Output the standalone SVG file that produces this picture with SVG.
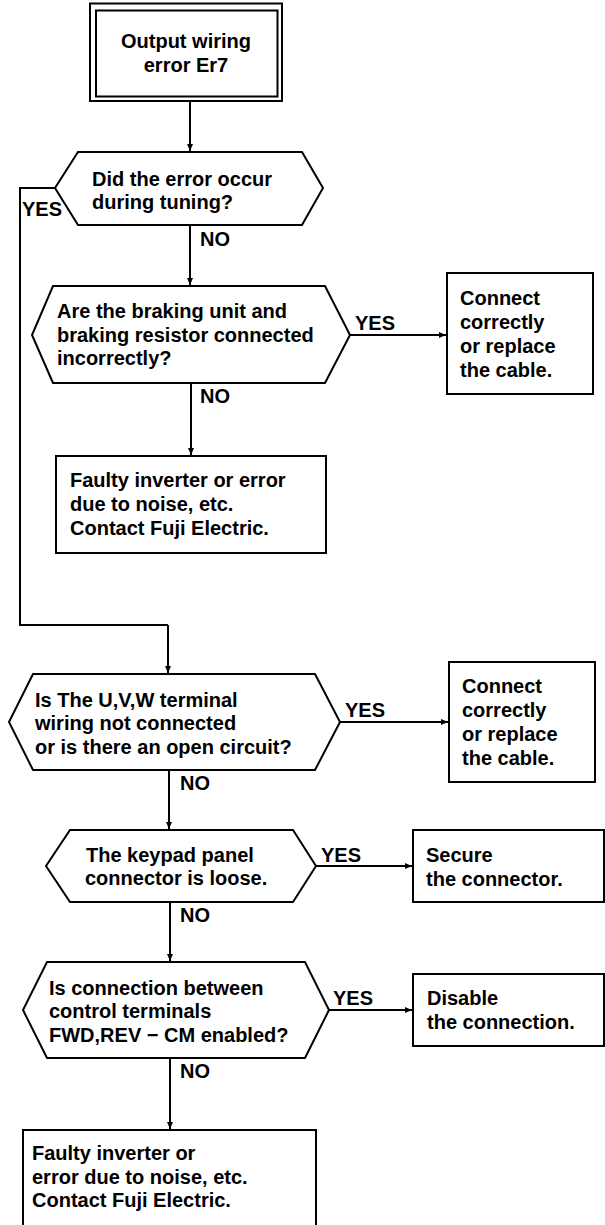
<svg xmlns="http://www.w3.org/2000/svg" width="605" height="1225" viewBox="0 0 605 1225">
  <defs>
    <marker id="arrow" markerUnits="userSpaceOnUse" markerWidth="8" markerHeight="8" refX="7" refY="4" orient="auto">
      <path d="M0,1 L7,4 L0,7 Z" fill="#000"/>
    </marker>
    <style>
      .shape { fill: #fff; stroke: #000; stroke-width: 2; }
      .line { fill: none; stroke: #000; stroke-width: 2; }
      .arrow { fill: none; stroke: #000; stroke-width: 2; marker-end: url(#arrow); }
      text { font-family: "Liberation Sans", Arial, sans-serif; font-size: 20px; font-weight: bold; fill: #000; }
      .mid { text-anchor: middle; }
    </style>
  </defs>
  <rect width="605" height="1225" fill="#fff"/>

  <!-- connectors -->
  <g id="connectors">
    <line class="arrow" x1="190" y1="101" x2="190" y2="151"/>
    <polyline class="line" points="55,188 20,188 20,625 168,625"/>
    <line class="arrow" x1="168" y1="625" x2="168" y2="673"/>
    <line class="arrow" x1="190" y1="225" x2="190" y2="285"/>
    <line class="arrow" x1="350" y1="335" x2="446" y2="335"/>
    <line class="arrow" x1="191" y1="383" x2="191" y2="455"/>
    <line class="arrow" x1="340" y1="722" x2="448" y2="722"/>
    <line class="arrow" x1="169" y1="770" x2="169" y2="829"/>
    <line class="arrow" x1="316" y1="866" x2="412" y2="866"/>
    <line class="arrow" x1="170" y1="902" x2="170" y2="961"/>
    <line class="arrow" x1="329" y1="1010" x2="412" y2="1010"/>
    <line class="arrow" x1="170" y1="1058" x2="170" y2="1129"/>
    <text x="22" y="216">YES</text>
    <text x="200" y="246">NO</text>
    <text x="355" y="330">YES</text>
    <text x="200" y="403">NO</text>
    <text x="345" y="717">YES</text>
    <text x="180" y="790">NO</text>
    <text x="321" y="862">YES</text>
    <text x="180" y="922">NO</text>
    <text x="333" y="1005">YES</text>
    <text x="180" y="1078">NO</text>
  </g>

  <!-- start -->
  <g id="start">
    <rect class="shape" x="90" y="3.5" width="192" height="97.5"/>
    <rect class="shape" x="96" y="10.5" width="181.5" height="86"/>
    <text class="mid" x="186" y="48">Output wiring</text>
    <text class="mid" x="186" y="72">error Er7</text>
  </g>

  <!-- decision: tuning -->
  <g id="q-tuning">
    <polygon class="shape" points="78,152 302,152 323,188 302,225 78,225 55,188"/>
    <text x="92" y="186">Did the error occur</text>
    <text x="92" y="209">during tuning?</text>
  </g>

  <!-- decision: braking unit -->
  <g id="q-braking">
    <polygon class="shape" points="53,286 325,286 350,335 325,383 53,383 32,335"/>
    <text x="57" y="318">Are the braking unit and</text>
    <text x="57" y="342">braking resistor connected</text>
    <text x="57" y="365">incorrectly?</text>
  </g>

  <g id="fix-braking">
    <rect class="shape" x="447" y="273" width="146" height="121"/>
    <text x="460" y="305">Connect</text>
    <text x="460" y="329">correctly</text>
    <text x="460" y="353">or replace</text>
    <text x="460" y="377">the cable.</text>
  </g>

  <g id="fault-1">
    <rect class="shape" x="56" y="456" width="270" height="97"/>
    <text x="70" y="487">Faulty inverter or error</text>
    <text x="70" y="511">due to noise, etc.</text>
    <text x="70" y="535">Contact Fuji Electric.</text>
  </g>

  <!-- decision: U,V,W wiring -->
  <g id="q-uvw">
    <polygon class="shape" points="33,674 315,674 340,722 315,770 33,770 9,722"/>
    <text x="35" y="707">Is The U,V,W terminal</text>
    <text x="35" y="730">wiring not connected</text>
    <text x="35" y="754">or is there an open circuit?</text>
  </g>

  <g id="fix-uvw">
    <rect class="shape" x="449" y="662" width="146" height="120"/>
    <text x="462" y="693">Connect</text>
    <text x="462" y="717">correctly</text>
    <text x="462" y="741">or replace</text>
    <text x="462" y="765">the cable.</text>
  </g>

  <!-- decision: keypad connector -->
  <g id="q-keypad">
    <polygon class="shape" points="70,830 293,830 316,866 293,902 70,902 46,866"/>
    <text x="86" y="862">The keypad panel</text>
    <text x="85" y="885">connector is loose.</text>
  </g>

  <g id="fix-keypad">
    <rect class="shape" x="413" y="830" width="191" height="72"/>
    <text x="426" y="862">Secure</text>
    <text x="426" y="886">the connector.</text>
  </g>

  <!-- decision: FWD/REV - CM -->
  <g id="q-fwdrev">
    <polygon class="shape" points="47,962 305,962 329,1010 305,1058 47,1058 23,1010"/>
    <text x="49" y="995">Is connection between</text>
    <text x="49" y="1018">control terminals</text>
    <text x="49" y="1042">FWD,REV − CM enabled?</text>
  </g>

  <g id="fix-fwdrev">
    <rect class="shape" x="413" y="974" width="191" height="72"/>
    <text x="427" y="1005">Disable</text>
    <text x="427" y="1029">the connection.</text>
  </g>

  <g id="fault-2">
    <rect class="shape" x="23" y="1130" width="293" height="110"/>
    <text x="32" y="1160">Faulty inverter or</text>
    <text x="32" y="1184">error due to noise, etc.</text>
    <text x="32" y="1207">Contact Fuji Electric.</text>
  </g>
</svg>
